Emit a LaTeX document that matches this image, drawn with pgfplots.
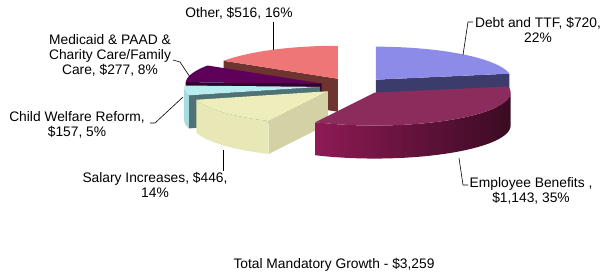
\documentclass[border=0pt]{standalone}
\usepackage{pgfplots}
\pgfplotsset{compat=1.18}
\usepackage{pgfplotstable}
\usepackage{fontspec}
\setmainfont{Liberation Sans}

\pgfplotstableread[col sep=comma]{
name,value
Debt and TTF,720
Employee Benefits,1143
Salary Increases,446
Child Welfare Reform,157
Medicaid PAAD Charity Care,277
Other,516
}\piedata

% cumulative angles (degrees, clockwise from 12 o'clock)
\pgfplotstablegetrowsof{\piedata}
\pgfmathtruncatemacro\lastrow{\pgfplotsretval-1}
\gdef\pietotal{0}
\pgfplotsforeachungrouped \i in {0,...,\lastrow}{%
  \pgfplotstablegetelem{\i}{value}\of\piedata
  \pgfmathsetmacro\tmp{\pietotal+\pgfplotsretval}%
  \xdef\pietotal{\tmp}%
}
\gdef\piecum{0}
\pgfplotsforeachungrouped \i in {0,...,\lastrow}{%
  \pgfplotstablegetelem{\i}{value}\of\piedata
  \pgfmathsetmacro\tmpa{\piecum/\pietotal*360}%
  \pgfmathsetmacro\tmp{\piecum+\pgfplotsretval}%
  \xdef\piecum{\tmp}%
  \pgfmathsetmacro\tmpb{\piecum/\pietotal*360}%
  \expandafter\xdef\csname pieA\i\endcsname{\tmpa}%
  \expandafter\xdef\csname pieB\i\endcsname{\tmpb}%
}

% geometry (image pixel units, y downwards)
\def\CX{354}\def\CY{86}\def\RX{136}\def\RY{33}\def\EX{34}\def\DEP{33}

\newcommand\piearc[5]{% px,py,from,to,yshift ; appends to \pts
  \pgfmathtruncatemacro\nseg{max(2,round(abs(#4-#3)/3))}%
  \foreach \j in {0,...,\nseg}{%
    \pgfmathsetmacro\ang{#3+(#4-#3)*\j/\nseg}%
    \pgfmathsetmacro\xx{#1+\RX*sin(\ang)}%
    \pgfmathsetmacro\yy{#2-\RY*cos(\ang)+#5}%
    \xdef\pts{\pts(\xx,\yy)}%
  }%
}

\newcommand\pieslice[4]{% #1 row, #2 top colour, #3 face colour, #4 wall fill options
  \pgfmathsetmacro\sA{\csname pieA#1\endcsname}%
  \pgfmathsetmacro\sB{\csname pieB#1\endcsname}%
  \pgfmathsetmacro\sM{(\sA+\sB)/2}%
  \pgfmathsetmacro\PX{\CX+\EX*sin(\sM)}%
  \pgfmathsetmacro\PY{\CY-\EX*\RY/\RX*cos(\sM)}%
  \pgfmathsetmacro\PYB{\PY+\DEP}%
  % radial face at start angle
  \pgfmathtruncatemacro\vis{sin(\sA)<-0.01}%
  \ifnum\vis=1
    \pgfmathsetmacro\qx{\PX+\RX*sin(\sA)}%
    \pgfmathsetmacro\qy{\PY-\RY*cos(\sA)}%
    \pgfmathsetmacro\qyb{\qy+\DEP}%
    \edef\doit{\noexpand\addplot[fill=#3,draw=none,no markers] coordinates {(\PX,\PY)(\qx,\qy)(\qx,\qyb)(\PX,\PYB)};}\doit
  \fi
  % radial face at end angle
  \pgfmathtruncatemacro\vis{sin(\sB)>0.01}%
  \ifnum\vis=1
    \pgfmathsetmacro\qx{\PX+\RX*sin(\sB)}%
    \pgfmathsetmacro\qy{\PY-\RY*cos(\sB)}%
    \pgfmathsetmacro\qyb{\qy+\DEP}%
    \edef\doit{\noexpand\addplot[fill=#3,draw=none,no markers] coordinates {(\PX,\PY)(\qx,\qy)(\qx,\qyb)(\PX,\PYB)};}\doit
  \fi
  % outer wall (front half only)
  \pgfmathsetmacro\wa{max(\sA,90)}%
  \pgfmathsetmacro\wb{min(\sB,270)}%
  \pgfmathtruncatemacro\vis{\wb>\wa+0.5}%
  \ifnum\vis=1
    \xdef\pts{}%
    \piearc{\PX}{\PY}{\wa}{\wb}{0}%
    \piearc{\PX}{\PY}{\wb}{\wa}{\DEP}%
    \edef\doit{\noexpand\addplot[#4,draw=none,no markers] coordinates {\pts};}\doit
  \fi
  % top
  \xdef\pts{(\PX,\PY)}%
  \piearc{\PX}{\PY}{\sA}{\sB}{0}%
  \edef\doit{\noexpand\addplot[fill=#2,draw=none,no markers] coordinates {\pts};}\doit
}

\definecolor{debtTop}{HTML}{8C8CE8}
\definecolor{debtFace}{HTML}{3C3C6C}
\definecolor{benTop}{HTML}{8C2C5C}
\definecolor{benL}{HTML}{8E1A55}
\definecolor{benR}{HTML}{3A0B22}
\definecolor{salTop}{HTML}{EEEEBC}
\definecolor{salFace}{HTML}{D2D2A4}
\definecolor{salWall}{HTML}{E8E8B6}
\definecolor{chTop}{HTML}{B8EEF0}
\definecolor{chFace}{HTML}{4E7276}
\definecolor{chWall}{HTML}{A6DCE0}
\definecolor{medTop}{HTML}{5E005A}
\definecolor{medFace}{HTML}{30002E}
\definecolor{othTop}{HTML}{EE7676}
\definecolor{othFace}{HTML}{6E3430}

\begin{document}
\begin{tikzpicture}
\begin{axis}[
  width=611bp, height=275bp, scale only axis,
  xmin=0, xmax=611, ymin=0, ymax=275, y dir=reverse,
  hide axis, clip=false,
]
\pieslice{5}{othTop}{othFace}{fill=othFace}
\pieslice{0}{debtTop}{debtFace}{fill=debtFace}
\pieslice{4}{medTop}{medFace}{fill=medFace}
\pieslice{3}{chTop}{chFace}{fill=chWall}
\pieslice{2}{salTop}{salFace}{fill=salWall}
\pieslice{1}{benTop}{benR}{left color=benL,right color=benR}

\begin{scope}[every node/.style={align=center,font=\fontsize{13.8bp}{15bp}\selectfont,inner sep=0pt}]
\node at (axis cs:239,13) {Other, \$516, 16\%};
\node at (axis cs:110,55) {Medicaid \& PAAD \&\\Charity Care/Family\\Care, \$277, 8\%};
\node at (axis cs:77,124.5) {Child Welfare Reform,\\\$157, 5\%};
\node at (axis cs:538,29.5) {Debt and TTF, \$720,\\22\%};
\node at (axis cs:155,185) {Salary Increases, \$446,\\14\%};
\node at (axis cs:531,191) {Employee Benefits ,\\\$1,143, 35\%};
\node at (axis cs:334,265) {Total Mandatory Growth - \$3,259};
\end{scope}
\draw[black,line width=0.6bp] (axis cs:273,22) -- (axis cs:273,50);
\draw[black,line width=0.6bp] (axis cs:173,60) -- (axis cs:180,62) -- (axis cs:190,77);
\draw[black,line width=0.6bp] (axis cs:150,123) -- (axis cs:155,123) -- (axis cs:183,97);
\draw[black,line width=0.6bp] (axis cs:473,22) -- (axis cs:468,22) -- (axis cs:463,55);
\draw[black,line width=0.6bp] (axis cs:223,150) -- (axis cs:223,171);
\draw[black,line width=0.6bp] (axis cs:459,158) -- (axis cs:463,185) -- (axis cs:468,185);
\end{axis}
\pgfresetboundingbox
\path[use as bounding box] (current axis.south west) rectangle (current axis.north east);
\end{tikzpicture}
\end{document}
